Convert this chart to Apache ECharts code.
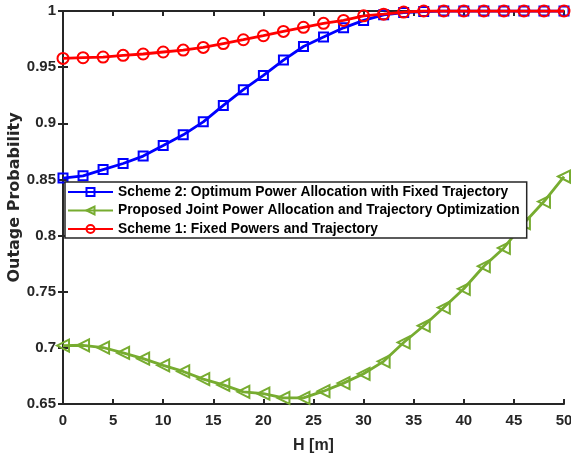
<!DOCTYPE html>
<html>
<head>
<meta charset="utf-8">
<script src="https://cdn.jsdelivr.net/npm/echarts@6/dist/echarts.min.js"></script>
<style>html,body{margin:0;padding:0;background:#fff}#c{width:571px;height:454px}</style>
</head>
<body>
<div id="c"></div>
<script>
var H = [0,2,4,6,8,10,12,14,16,18,20,22,24,26,28,30,32,34,36,38,40,42,44,46,48,50];
var scheme2 = [0.8512,0.8532,0.8588,0.8642,0.8708,0.8802,0.8897,0.9013,0.9159,0.9299,0.9426,0.9563,0.9684,0.9768,0.9850,0.9916,0.9966,0.9986,0.9995,1.0,1.0,1.0,1.0,1.0,1.0,1.0];
var proposed = [0.7020,0.7023,0.7003,0.6955,0.6904,0.6844,0.6790,0.6722,0.6670,0.6608,0.6592,0.6554,0.6555,0.6614,0.6686,0.6769,0.6880,0.7048,0.7197,0.7359,0.7526,0.7727,0.7890,0.8110,0.8303,0.8526];
var scheme1 = [0.9578,0.9584,0.9590,0.9605,0.9617,0.9635,0.9652,0.9676,0.9710,0.9744,0.9780,0.9818,0.9855,0.9890,0.9916,0.9957,0.9972,0.9990,1.0,1.0,1.0,1.0,1.0,1.0,1.0,1.0];
var names = ['Scheme 2: Optimum Power Allocation with Fixed Trajectory','Proposed Joint Power Allocation and Trajectory Optimization','Scheme 1: Fixed Powers and Trajectory'];

function pairs(v){ return H.map(function(h,i){ return [h, v[i]]; }); }
var axisCol = '#262626';
var font = 'Liberation Sans, Arial, Helvetica, sans-serif';
var chart = echarts.init(document.getElementById('c'));
var frameLine = {show:true, lineStyle:{color:axisCol, width:2}};
var tick = {inside:true, length:5, lineStyle:{color:axisCol, width:2}};
chart.setOption({
  animation:false,
  backgroundColor:'#fff',
  grid:{left:63, right:7, top:11, bottom:50, containLabel:false, outerBoundsMode:'none'},
  legend:{
    data:names, orient:'vertical', left:65, top:182,
    backgroundColor:'#fff', borderColor:axisCol, borderWidth:1.5,
    padding:[3,7,2,2], itemGap:4.5, itemWidth:45, itemHeight:10,
    textStyle:{fontFamily:font, fontWeight:'bold', fontSize:13.8, color:'#000'}
  },
  xAxis:[{
    type:'value', min:0, max:50, interval:5,
    name:'H [m]', nameLocation:'middle', nameGap:34,
    nameTextStyle:{fontFamily:font, fontWeight:'bold', fontSize:16, color:axisCol},
    axisLine:frameLine, axisTick:tick,
    axisLabel:{fontFamily:font, fontWeight:'bold', fontSize:15, color:axisCol, margin:9},
    splitLine:{show:false}
  },{
    type:'value', position:'top', min:0, max:50, interval:5,
    axisLine:frameLine, axisTick:tick,
    axisLabel:{show:false}, splitLine:{show:false}
  }],
  yAxis:[{
    type:'value', min:0.65, max:1, interval:0.05,
    name:'Outage Probability', nameLocation:'middle', nameGap:40, nameMoveOverlap:false,
    nameTextStyle:{fontFamily:'DejaVu Sans, sans-serif', fontWeight:'bold', fontSize:16, color:axisCol, padding:[0,0,0,20]},
    axisLine:frameLine, axisTick:tick,
    axisLabel:{fontFamily:font, fontWeight:'bold', fontSize:15, color:axisCol, margin:7,
      formatter:function(v){ return String(+v.toFixed(2)); }},
    splitLine:{show:false}
  },{
    type:'value', position:'right', min:0.65, max:1, interval:0.05,
    axisLine:frameLine, axisTick:tick,
    axisLabel:{show:false}, splitLine:{show:false}
  }],
  series:[{
    name:names[0], type:'line', data:pairs(scheme2), z:3,
    symbol:'rect', symbolSize:9, showAllSymbol:true,
    lineStyle:{color:'#0000ff', width:2.8},
    itemStyle:{color:'rgba(255,255,255,0)', borderColor:'#0000ff', borderWidth:2}
  },{
    name:names[1], type:'line', data:pairs(proposed), z:3,
    symbol:'triangle', symbolSize:12, symbolRotate:90, showAllSymbol:true,
    lineStyle:{color:'#77ac30', width:2.8},
    itemStyle:{color:'rgba(255,255,255,0)', borderColor:'#77ac30', borderWidth:2}
  },{
    name:names[2], type:'line', data:pairs(scheme1), z:4,
    symbol:'circle', symbolSize:11, showAllSymbol:true,
    lineStyle:{color:'#ff0000', width:2.8},
    itemStyle:{color:'rgba(255,255,255,0)', borderColor:'#ff0000', borderWidth:2}
  }]
});
</script>
</body>
</html>
